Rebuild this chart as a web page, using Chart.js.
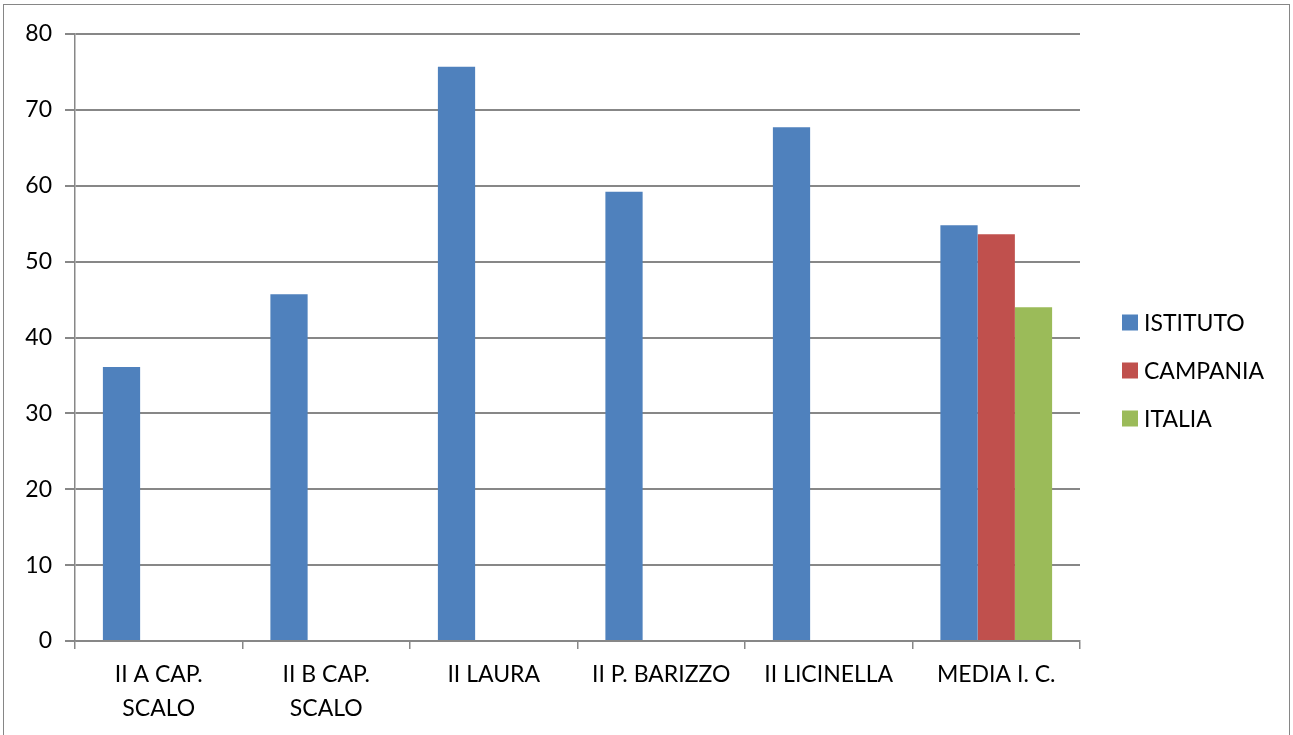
<!DOCTYPE html>
<html>
<head>
<meta charset="utf-8">
<script src="https://cdn.jsdelivr.net/npm/chart.js@4"></script>
<style>
  html, body { margin: 0; padding: 0; background: #ffffff; }
  #wrap { position: relative; width: 1293px; height: 735px; overflow: hidden; }
  #frame { position: absolute; left: 3px; top: 4px; width: 1287px; height: 760px; border: 1px solid #868686; box-sizing: border-box; }
  canvas { position: absolute; left: 0; top: 0; }
</style>
</head>
<body>
<div id="wrap">
  <div id="frame"></div>
  <canvas id="c" width="1293" height="735"></canvas>
</div>
<script>
const categories = [
  ["II A CAP.", "SCALO"],
  ["II B CAP.", "SCALO"],
  "II LAURA",
  "II P. BARIZZO",
  "II LICINELLA",
  "MEDIA I. C."
];
const istituto = [36.1, 45.7, 75.7, 59.2, 67.7, 54.8];
const campania = [null, null, null, null, null, 53.6];
const italia   = [null, null, null, null, null, 44.0];
const seriesNames = ["ISTITUTO", "CAMPANIA", "ITALIA"];
const seriesColors = ["#4F81BD", "#C0504D", "#9BBB59"];
const yTicks = { min: 0, max: 80, step: 10 };

const FONT = "Lato, 'Open Sans', sans-serif";
const FSIZE = 23;
const GRID = "#878787";

const sideLegend = {
  id: "sideLegend",
  afterDraw(chart) {
    const ctx = chart.ctx;
    const ds = chart.data.datasets;
    const x = chart.chartArea.right + 42;
    const step = 48;
    const cy = chart.height / 2 + 3;
    const y0 = cy - step * (ds.length - 1) / 2;
    ctx.save();
    ctx.font = FSIZE + "px " + FONT;
    ctx.textBaseline = "middle";
    ctx.textAlign = "left";
    ds.forEach((d, i) => {
      const y = y0 + i * step;
      ctx.fillStyle = d.backgroundColor;
      ctx.fillRect(x, y - 8, 16, 16);
      ctx.fillStyle = "#000000";
      ctx.fillText(d.label, x + 22, y + 1);
    });
    ctx.restore();
  }
};

new Chart(document.getElementById("c"), {
  type: "bar",
  data: {
    labels: categories,
    datasets: [istituto, campania, italia].map((d, i) => ({
      label: seriesNames[i],
      data: d,
      backgroundColor: seriesColors[i],
      borderWidth: 0,
      categoryPercentage: 0.667,
      barPercentage: 1.0
    }))
  },
  plugins: [sideLegend],
  options: {
    responsive: false,
    animation: false,
    devicePixelRatio: 1,
    layout: { padding: { top: 34, left: 0, right: 213, bottom: 0 } },
    plugins: {
      tooltip: { enabled: false },
      legend: { display: false }
    },
    scales: {
      x: {
        afterFit(scale) { scale.height = 94; },
        grid: {
          display: true,
          drawOnChartArea: false,
          drawTicks: true,
          tickLength: 8,
          color: GRID,
          lineWidth: 1.5
        },
        border: { color: GRID, width: 1.5 },
        ticks: {
          color: "#000000",
          maxRotation: 0,
          autoSkip: false,
          padding: 9,
          font: { family: FONT, size: FSIZE, lineHeight: 1.48 }
        }
      },
      y: {
        min: yTicks.min,
        max: yTicks.max,
        afterFit(scale) { scale.width = 75; },
        grid: {
          color: GRID,
          lineWidth: 2,
          tickLength: 10
        },
        border: { color: GRID, width: 1.5 },
        ticks: {
          stepSize: yTicks.step,
          color: "#000000",
          padding: 13,
          font: { family: FONT, size: FSIZE }
        }
      }
    }
  }
});
</script>
</body>
</html>
